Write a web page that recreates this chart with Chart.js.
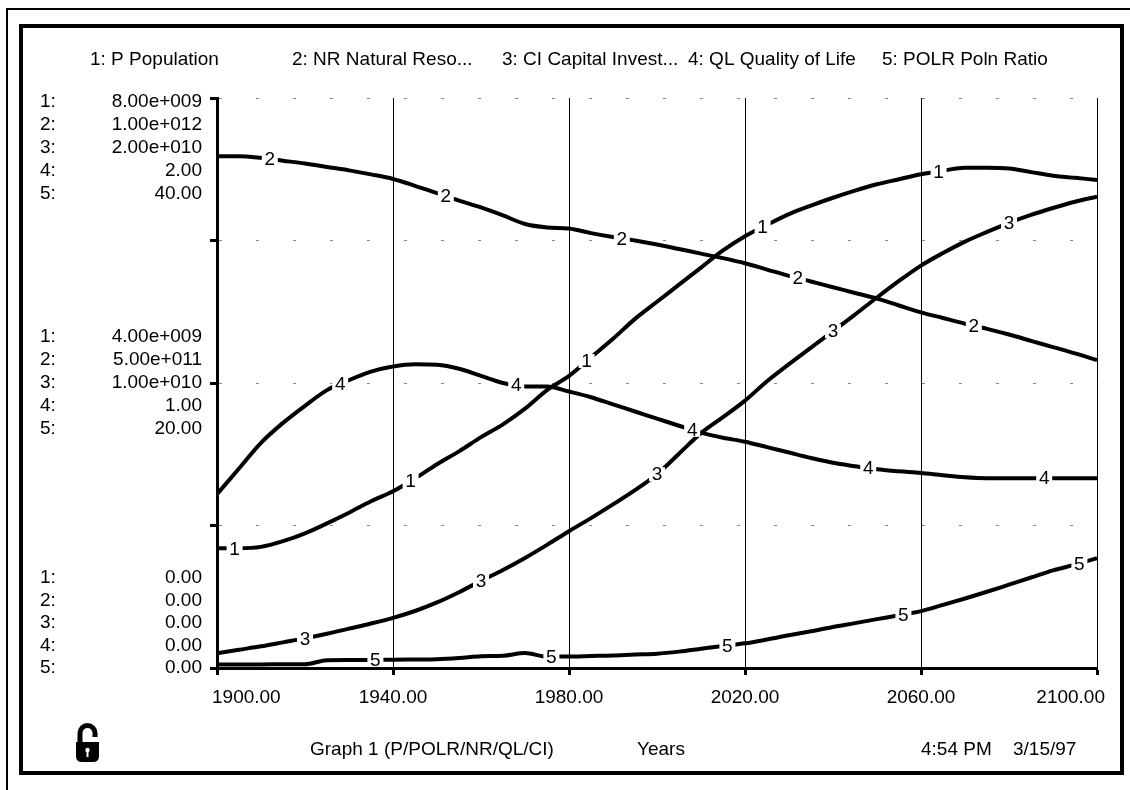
<!DOCTYPE html>
<html>
<head>
<meta charset="utf-8">
<title>Graph 1 (P/POLR/NR/QL/CI)</title>
<script src="https://cdn.jsdelivr.net/npm/chart.js@4/dist/chart.umd.min.js"></script>
<style>
    html, body { margin: 0; padding: 0; background: #fff; }
    #graph { display: block; }
</style>
</head>
<body>
<canvas id="graph" width="1130" height="790"></canvas>
<script>
// simulation time, years
const years = [1900, 1905, 1910, 1915, 1920, 1925, 1930, 1935, 1940, 1945,
    1950, 1955, 1960, 1965, 1970, 1975, 1980, 1985, 1990, 1995,
    2000, 2005, 2010, 2015, 2020, 2025, 2030, 2035, 2040, 2045,
    2050, 2055, 2060, 2065, 2070, 2075, 2080, 2085, 2090, 2095, 2100];

// 1: P Population (billions)
const population = [1.68, 1.68, 1.70, 1.78, 1.89, 2.03, 2.18, 2.34, 2.48, 2.66,
    2.86, 3.04, 3.24, 3.42, 3.64, 3.90, 4.10, 4.36, 4.62, 4.90,
    5.14, 5.38, 5.62, 5.86, 6.06, 6.22, 6.37, 6.49, 6.60, 6.70,
    6.79, 6.86, 6.93, 6.98, 7.02, 7.02, 7.01, 6.96, 6.91, 6.88, 6.85];

// 2: NR Natural Resources (billions)
const resources = [898, 898, 895, 890, 885, 879, 873, 866, 858, 846,
    833, 820, 808, 794, 779, 773, 771, 763, 756, 750,
    743, 735, 727, 719, 710, 699, 688, 678, 668, 658,
    648, 636, 624, 614, 604, 595, 585, 574, 563, 552, 540];

// 3: CI Capital Investment (billions)
const capital = [0.52, 0.64, 0.76, 0.90, 1.04, 1.20, 1.38, 1.56, 1.76, 2.00,
    2.30, 2.66, 3.06, 3.44, 3.86, 4.32, 4.80, 5.26, 5.74, 6.24,
    6.80, 7.52, 8.24, 8.80, 9.38, 10.06, 10.66, 11.24, 11.82, 12.40,
    13.00, 13.58, 14.12, 14.56, 14.96, 15.30, 15.62, 15.90, 16.14, 16.36, 16.54];

// 4: QL Quality of Life
const quality = [0.61, 0.70, 0.79, 0.86, 0.92, 0.975, 1.01, 1.04, 1.058, 1.066,
    1.064, 1.05, 1.025, 1.0, 0.988, 0.988, 0.97, 0.95, 0.925, 0.90,
    0.875, 0.85, 0.826, 0.808, 0.794, 0.775, 0.756, 0.737, 0.72, 0.708,
    0.697, 0.69, 0.684, 0.676, 0.669, 0.666, 0.666, 0.666, 0.666, 0.666, 0.666];

// 5: POLR Pollution Ratio
const pollution = [0.25, 0.25, 0.25, 0.26, 0.26, 0.55, 0.56, 0.57, 0.58, 0.60,
    0.62, 0.70, 0.82, 0.86, 1.05, 0.80, 0.80, 0.84, 0.88, 0.95,
    1.00, 1.15, 1.35, 1.55, 1.73, 2.00, 2.30, 2.58, 2.88, 3.15,
    3.43, 3.70, 3.99, 4.43, 4.88, 5.35, 5.85, 6.35, 6.85, 7.25, 7.70];

const seriesNames = ['P Population', 'NR Natural Reso...', 'CI Capital Invest...', 'QL Quality of Life', 'POLR Poln Ratio'];
const seriesValues = [population, resources, capital, quality, pollution];
// top of every y scale, same units as the arrays above
const scaleMax = [8, 1000, 20, 2, 40];
// what one unit of the array is worth when printed on the axis
const unitFactor = [1e9, 1e9, 1e9, 1, 1];
const yearTicks = [1900, 1940, 1980, 2020, 2060, 2100];

const FONT = '19px "Liberation Sans", Arial, sans-serif';

function formatValue(v, factor) {
    if (factor === 1 || v === 0) {
        return v.toFixed(2);
    }
    const real = v * factor;
    const exp = Math.floor(Math.log10(real));
    const mant = real / Math.pow(10, exp);
    return mant.toFixed(2) + 'e+' + String(exp).padStart(3, '0');
}

// value of a series at any year, straight between the stored points
function valueAt(values, year) {
    for (let i = 0; i < years.length - 1; i++) {
        if (year >= years[i] && year <= years[i + 1]) {
            const t = (year - years[i]) / (years[i + 1] - years[i]);
            return values[i] + t * (values[i + 1] - values[i]);
        }
    }
    return values[values.length - 1];
}

function makeDataset(values, idx) {
    return {
        label: (idx + 1) + ': ' + seriesNames[idx],
        data: values.map(function (v, i) { return { x: years[i], y: v }; }),
        yAxisID: 'y' + (idx + 1),
        borderColor: '#000',
        borderWidth: 4,
        pointRadius: 0,
        fill: false,
        cubicInterpolationMode: 'monotone'
    };
}

// numbers sitting on the curves, staggered every 8 years
function drawCurveNumbers(chart) {
    const ctx = chart.ctx;
    const xs = chart.scales.x;
    ctx.save();
    ctx.font = FONT;
    ctx.textAlign = 'center';
    ctx.textBaseline = 'middle';
    for (let s = 0; s < seriesValues.length; s++) {
        const ys = chart.scales['y' + (s + 1)];
        for (let k = 0; k < 5; k++) {
            const year = 1904 + 8 * s + 40 * k;
            const px = xs.getPixelForValue(year);
            const py = ys.getPixelForValue(valueAt(seriesValues[s], year));
            ctx.fillStyle = '#fff';
            ctx.fillRect(px - 8, py - 7, 16, 14);
            ctx.fillStyle = '#000';
            ctx.fillText(String(s + 1), px, py + 1);
        }
    }
    ctx.restore();
}

function drawLock(ctx) {
    ctx.save();
    ctx.strokeStyle = '#000';
    ctx.lineWidth = 5;
    ctx.beginPath();
    ctx.moveTo(80, 744);
    ctx.lineTo(80, 733);
    ctx.arc(87.5, 733, 7.5, Math.PI, 0);
    ctx.lineTo(95, 737);
    ctx.stroke();
    ctx.fillStyle = '#000';
    ctx.beginPath();
    ctx.moveTo(76, 742);
    ctx.lineTo(99, 742);
    ctx.lineTo(99, 756);
    ctx.quadraticCurveTo(99, 762, 93, 762);
    ctx.lineTo(82, 762);
    ctx.quadraticCurveTo(76, 762, 76, 756);
    ctx.closePath();
    ctx.fill();
    ctx.fillStyle = '#fff';
    ctx.beginPath();
    ctx.arc(87.5, 750, 2.2, 0, Math.PI * 2);
    ctx.fill();
    ctx.fillRect(86.5, 750, 2, 7);
    ctx.restore();
}

const graphDecor = {
    id: 'graphDecor',
    afterDatasetsDraw: function (chart) {
        drawCurveNumbers(chart);
    },
    afterDraw: function (chart) {
        const ctx = chart.ctx;
        const xs = chart.scales.x;
        ctx.save();

        // window frame
        ctx.strokeStyle = '#000';
        ctx.lineWidth = 2;
        ctx.beginPath();
        ctx.moveTo(1130, 9);
        ctx.lineTo(7, 9);
        ctx.lineTo(7, 790);
        ctx.stroke();
        ctx.lineWidth = 4;
        ctx.strokeRect(21, 26, 1101, 747);

        ctx.fillStyle = '#000';
        ctx.font = FONT;
        ctx.textBaseline = 'middle';

        // legend row
        const legendX = [90, 292, 502, 688, 882];
        ctx.textAlign = 'left';
        for (let s = 0; s < seriesNames.length; s++) {
            ctx.fillText((s + 1) + ': ' + seriesNames[s], legendX[s], 60);
        }

        // stacked scale labels at top, middle and bottom
        const blocks = [
            { frac: 1, offset: 4, step: 23, first: 0 },
            { frac: 0.5, offset: 0, step: 23, first: -2 },
            { frac: 0, offset: 0, step: 22.5, first: -4 }
        ];
        blocks.forEach(function (b) {
            for (let s = 0; s < 5; s++) {
                const ys = chart.scales['y' + (s + 1)];
                const val = scaleMax[s] * b.frac;
                const py = ys.getPixelForValue(val) + b.offset + (b.first + s) * b.step;
                ctx.textAlign = 'left';
                ctx.fillText((s + 1) + ':', 40, py);
                ctx.textAlign = 'right';
                ctx.fillText(formatValue(val, unitFactor[s]), 202, py);
            }
        });

        // year labels
        yearTicks.forEach(function (yr, i) {
            const px = xs.getPixelForValue(yr);
            if (i === 0) {
                ctx.textAlign = 'left';
                ctx.fillText(yr.toFixed(2), px - 5, 698);
            } else if (i === yearTicks.length - 1) {
                ctx.textAlign = 'right';
                ctx.fillText(yr.toFixed(2), px + 8, 698);
            } else {
                ctx.textAlign = 'center';
                ctx.fillText(yr.toFixed(2), px, 698);
            }
        });

        // footer
        ctx.textAlign = 'left';
        ctx.fillText('Graph 1 (P/POLR/NR/QL/CI)', 310, 750);
        ctx.fillText('Years', 637, 750);
        ctx.fillText('4:54 PM', 921, 750);
        ctx.fillText('3/15/97', 1013, 750);
        ctx.restore();

        drawLock(ctx);
    }
};

function buildScales() {
    const scales = {
        x: {
            type: 'linear',
            min: 1900,
            max: 2100,
            ticks: { display: false, stepSize: 40 },
            grid: { color: '#000', lineWidth: 1, tickLength: 7, tickWidth: 3, tickColor: '#000' },
            border: { color: '#000', width: 3 }
        }
    };
    for (let s = 0; s < 5; s++) {
        scales['y' + (s + 1)] = {
            type: 'linear',
            display: s === 0,
            position: 'left',
            min: 0,
            max: scaleMax[s],
            ticks: { display: false, stepSize: scaleMax[s] / 4 },
            grid: { color: '#888', lineWidth: 1, tickLength: 7, tickWidth: 3, tickColor: '#000', tickBorderDash: [] },
            border: { color: '#000', width: 3, dash: [3, 34] }
        };
    }
    return scales;
}

const graph = new Chart(document.getElementById('graph'), {
    type: 'line',
    data: {
        datasets: seriesValues.map(makeDataset)
    },
    options: {
        responsive: false,
        animation: false,
        devicePixelRatio: 1,
        layout: { padding: { left: 210, top: 98, right: 33, bottom: 115 } },
        plugins: {
            legend: { display: false },
            tooltip: { enabled: false }
        },
        scales: buildScales()
    },
    plugins: [graphDecor]
});
</script>
</body>
</html>
